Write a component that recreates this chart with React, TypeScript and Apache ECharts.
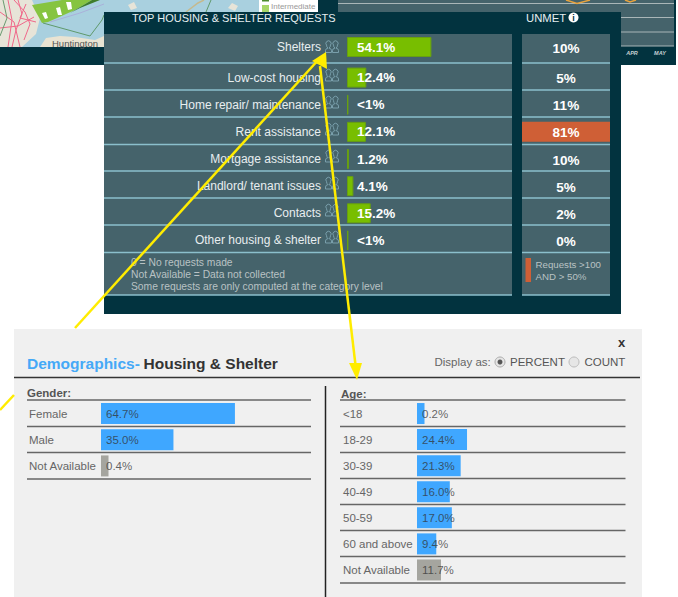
import React, { useEffect, useRef } from "react";
import * as echarts from "echarts";

const FONT = '"Liberation Sans", Arial, sans-serif';

const requestCategories = ["Shelters", "Low-cost housing", "Home repair/ maintenance", "Rent assistance", "Mortgage assistance", "Landlord/ tenant issues", "Contacts", "Other housing & shelter"];
const requestValues = [54.1, 12.4, 0.9, 12.1, 1.2, 4.1, 15.2, 0.9];
const requestLabels = ["54.1%", "12.4%", "<1%", "12.1%", "1.2%", "4.1%", "15.2%", "<1%"];
const unmetValues = [10, 5, 11, 81, 10, 5, 2, 0];
const genderCategories = ["Female", "Male", "Not Available"];
const genderValues = [64.7, 35.0, 0.4];
const ageCategories = ["<18", "18-29", "30-39", "40-49", "50-59", "60 and above", "Not Available"];
const ageValues = [0.2, 24.4, 21.3, 16.0, 17.0, 9.4, 11.7];
const footerNotes = ["0 = No requests made", "Not Available = Data not collected", "Some requests are only computed at the category level"];

echarts.graphic.registerShape(
  "people",
  echarts.graphic.extendPath(
    "M1 11 V9 Q1 7 3.5 6.6 Q2 5.6 2 3.6 A2.6 2.6 0 1 1 6 3.6 Q6 5.6 4.5 6.6 Q7 7 7 9 V11 Z M8 11 V9 Q8 7 10.5 6.6 Q9 5.6 9 3.6 A2.6 2.6 0 1 1 13 3.6 Q13 5.6 11.5 6.6 Q14 7 14 9 V11 Z",
    {}
  )
);

const DARK = "#02333f";
const PANEL = "#45636b";
const RULE = "#8bbfcc";
const LINE = "#666666";
const YELLOW = "#ffec00";

const rect = (x: number, y: number, width: number, height: number, fill: string, z = 0) => ({ type: "rect", z, silent: true, shape: { x, y, width, height }, style: { fill } });
const line = (x1: number, y1: number, x2: number, y2: number, stroke: string, lineWidth = 1.5, z = 1) => ({ type: "line", z, silent: true, shape: { x1, y1, x2, y2 }, style: { stroke, lineWidth } });
const poly = (points: number[][], fill: string, z = 1) => ({ type: "polygon", z, silent: true, shape: { points }, style: { fill } });
const route = (points: number[][], stroke: string, lineWidth = 1, z = 1) => ({ type: "polyline", z, silent: true, shape: { points }, style: { stroke, lineWidth, fill: "none" } });
const text = (s: string, x: number, y: number, fill: string, size: number, weight = "normal", z = 3, extra: any = {}) => ({
  type: "text", z, silent: true, x, y,
  style: { text: s, fill, font: `${extra.italic ? "italic " : ""}${weight} ${size}px ${FONT}`, verticalAlign: "middle", align: extra.align || "left" },
});

const rowRules = [63, 90, 117, 144.5, 171, 198, 225, 252.5, 295];
const iconCentres = [47.5, 76, 103, 130, 157, 184, 211, 238];
const ageRules = [400, 426.5, 452.5, 478.5, 504.5, 530.5, 556.5, 583];
const genderRules = [400, 426.5, 452.5, 479];

const graphics: any[] = [
  // map fragment
  rect(0, 0, 104, 47, "#a9d0df"),
  rect(104, 0, 214, 12, "#a9d0df"),
  poly([[0, 0], [32, 0], [40, 18], [36, 34], [22, 47], [0, 47]], "#e7e4d8"),
  poly([[40, 47], [46, 38], [60, 36], [75, 37], [95, 40], [104, 36], [104, 47]], "#e9e3d2"),
  poly([[32, 5], [62, 0], [92, 0], [75, 10], [48, 22], [42, 23]], "#86c440"),
  poly([[70, 13], [92, 0], [100, 0], [80, 8]], "#3f7d2a"),
  poly([[42, 13], [46, 12], [48, 18], [45, 19]], "#ffffff"),
  poly([[56, 8], [60, 7], [62, 15], [58, 15]], "#ffffff"),
  poly([[66, 2], [71, 2], [72, 9], [68, 10]], "#ffffff"),
  route([[43, 23], [90, 36], [102, 20], [104, 15]], "#5f9a6c", 1),
  route([[50, 22], [80, 13], [104, 4]], "#a9a8d8", 0.8),
  route([[0, 12], [14, 22], [20, 47]], "#f0688a", 1),
  route([[8, 0], [12, 20], [8, 47]], "#f0688a", 1),
  route([[18, 0], [22, 14], [16, 30], [12, 47]], "#f0688a", 1),
  route([[26, 4], [20, 18], [36, 22]], "#f0688a", 1),
  route([[0, 28], [18, 26], [34, 17]], "#f0688a", 1),
  route([[14, 0], [25, 12], [30, 24], [24, 40]], "#f0688a", 1),
  route([[3, 0], [7, 18], [0, 36]], "#6a9a70", 1),
  route([[186, 12], [198, 3], [204, 0]], "#c5b98e", 1.5),
  route([[206, 12], [211, 0]], "#5f9a6c", 1),
  poly([[128, 5], [134, 2], [137, 8], [131, 10]], "#e7e4d8"),
  poly([[228, 8], [232, 3], [238, 6], [235, 11]], "#e7e4d8"),
  text("Huntington", 52, 43, "#555555", 9.5, "normal", 1),
  rect(259, 0, 59, 12, "#ffffff", 1),
  rect(262, 0, 7, 1.5, "#4d8a2e", 2),
  rect(262, 5, 7, 7, "#a8d668", 2),
  text("Intermediate", 271, 6.5, "#999999", 8, "normal", 3),
  // dark frames
  rect(0, 47, 104, 18, DARK),
  rect(318, 0, 358, 12, DARK),
  rect(621, 0, 55, 65, DARK),
  rect(338, 0, 336, 12, PANEL, 1),
  rect(621, 12, 53, 34, PANEL, 1),
  line(338, 3.5, 674, 3.5, "#a9b6b8", 1, 2),
  line(621, 17.5, 674, 17.5, "#a9b6b8", 1, 2),
  line(621, 32, 674, 32, "#a9b6b8", 1, 2),
  line(621, 46, 674, 46, "#a9b6b8", 1, 2),
  route([[566, 0], [577, 3.5], [590, 0]], "#e8a33d", 1.5, 2),
  route([[625, 0], [630, 2], [636, 0]], "#e8a33d", 1.5, 2),
  text("APR", 632, 53, "#c8d2d4", 5.5, "bold", 3, { italic: true, align: "center" }),
  text("MAY", 660, 53, "#c8d2d4", 5.5, "bold", 3, { italic: true, align: "center" }),
  // top panel
  rect(104, 12, 517, 302, DARK, 1),
  rect(104, 34, 408, 261, PANEL, 1),
  rect(522, 34, 88, 261, PANEL, 1),
  ...rowRules.flatMap((y) => [line(104, y, 512, y, RULE, 1.5, 2), line(522, y, 610, y, RULE, 1.5, 2)]),
  text("TOP HOUSING & SHELTER REQUESTS", 132, 17.5, "#e6eef0", 11),
  text("UNMET", 526, 17.5, "#e6eef0", 11.3),
  { type: "circle", z: 3, silent: true, shape: { cx: 573.5, cy: 17.5, r: 5 }, style: { fill: "#ffffff" } },
  text("i", 573.5, 17.5, DARK, 9, "bold", 4, { align: "center" }),
  ...iconCentres.map((c) => ({ type: "people", z: 3, silent: true, x: 324.5, y: c - 6, style: { fill: "none", stroke: "#7fa6b2", lineWidth: 0.9 } })),
  ...footerNotes.map((n, i) => text(n, 131, 262.5 + i * 12, "#b9c2c4", 10.3)),
  rect(525.5, 258, 5.5, 24, "#cf5f36", 3),
  text("Requests >100", 535.5, 264, "#b9c2c4", 9.7),
  text("AND > 50%", 535.5, 276, "#b9c2c4", 9.7),
  // arrow, lower part is covered by the lower panel
  line(0, 410, 14, 395, YELLOW, 2.5, 30),
  line(75, 328, 320, 58, YELLOW, 2.5, 30),
  poly([[326, 52], [312, 61], [327, 69]], YELLOW, 30),
  // lower panel
  rect(14, 329, 628, 268, "#f0f0f0", 1),
  text("Demographics-", 27, 363.5, "#45a9f7", 15.5, "bold"),
  text("Housing & Shelter", 143.5, 363.5, "#333333", 15.5, "bold"),
  text("x", 618, 342, "#333333", 13, "bold"),
  text("Display as:", 434.5, 361.5, "#666666", 11.5),
  { type: "circle", z: 3, silent: true, shape: { cx: 500, cy: 362, r: 5 }, style: { fill: "#e6e6e6", stroke: "#aaaaaa", lineWidth: 1 } },
  { type: "circle", z: 4, silent: true, shape: { cx: 500, cy: 362, r: 2.5 }, style: { fill: "#555555" } },
  text("PERCENT", 510, 361.5, "#555555", 11.5),
  { type: "circle", z: 3, silent: true, shape: { cx: 574, cy: 362, r: 5 }, style: { fill: "#e6e6e6", stroke: "#bbbbbb", lineWidth: 1 } },
  text("COUNT", 584.5, 361.5, "#555555", 11.5),
  line(14, 377.5, 640, 377.5, "#333333", 1.5, 2),
  line(325.5, 386, 325.5, 597, "#222222", 1.5, 2),
  text("Gender:", 27, 393, "#555555", 11.5, "bold"),
  text("Age:", 341, 393.5, "#555555", 11.5, "bold"),
  ...genderRules.map((y) => line(27, y, 311, y, LINE)),
  ...ageRules.map((y) => line(340, y, 625.5, y, LINE)),
  // second arrow over everything
  line(320, 66, 355.5, 365, YELLOW, 2.5, 30),
  poly([[357, 380], [349, 363], [362, 363]], YELLOW, 30),
];

const requestAxisLabel = { color: "#e8eef0", fontSize: 12, fontFamily: FONT, margin: 26, padding: [0, 0, 3, 0] };

const requestBar = (cats: string[], offset: number, gridIndex: number) => ({
  type: "bar", xAxisIndex: gridIndex, yAxisIndex: gridIndex, z: 4, barWidth: 20, silent: true,
  data: requestValues.slice(offset, offset + cats.length),
  itemStyle: { color: "#78be00", borderColor: "#68a010", borderWidth: 1 },
  label: {
    show: true, position: "insideLeft", distance: 10, color: "#ffffff", fontFamily: FONT, fontWeight: "bold", fontSize: 13.5,
    formatter: (p: any) => requestLabels[offset + p.dataIndex],
  },
});

const unmetSeries = (offset: number, count: number, gridIndex: number) => ({
  type: "custom", xAxisIndex: gridIndex, yAxisIndex: gridIndex, z: 4, silent: true,
  encode: { x: 0, y: 1 },
  data: unmetValues.slice(offset, offset + count).map((v, i) => [v, i]),
  renderItem: (params: any, api: any) => {
    const v = api.value(0);
    const cs = params.coordSys;
    const cy = api.coord([0, api.value(1)])[1];
    const children: any[] = [];
    if (v > 50) children.push({ type: "rect", shape: { x: cs.x, y: cy - 10, width: cs.width, height: 20 }, style: { fill: "#cf5f36" } });
    children.push({ type: "text", style: { text: `${v}%`, x: cs.x + cs.width / 2, y: cy + 1, align: "center", verticalAlign: "middle", fill: "#ffffff", font: `bold 13.5px ${FONT}` } });
    return { type: "group", children };
  },
});

const demoSeries = (values: number[], gridIndex: number, grayIndex: number) => ({
  type: "bar", xAxisIndex: gridIndex, yAxisIndex: gridIndex, z: 4, barWidth: 21, barMinHeight: 7.5, silent: true,
  data: values.map((value, i) => ({ value, itemStyle: { color: i === grayIndex ? "#a5a59f" : "#3fa7ff" } })),
  label: {
    show: true, position: "insideLeft", distance: 5, color: "rgba(50,50,50,0.75)", fontFamily: FONT, fontSize: 11.5,
    formatter: (p: any) => `${p.value.toFixed(1)}%`,
  },
});

const hiddenX = (gridIndex: number) => ({ type: "value", gridIndex, min: 0, max: 100, show: false });
const catY = (gridIndex: number, data: string[], axisLabel: any) => ({
  type: "category", gridIndex, data, inverse: true, z: 5,
  axisLine: { show: false }, axisTick: { show: false }, splitLine: { show: false },
  axisLabel,
});

const demoLabel = (margin: number) => ({ color: "#666666", fontSize: 11.5, fontFamily: FONT, align: "left", margin, interval: 0 });
const rest = requestCategories.slice(1);
const first = requestCategories.slice(0, 1);
const noLabel = { show: false };

const option: any = {
  animation: false,
  backgroundColor: "#ffffff",
  textStyle: { fontFamily: FONT },
  graphic: { elements: graphics },
  grid: [
    { left: 347, top: 37, width: 156, height: 20 },
    { left: 347, top: 64, width: 156, height: 190 },
    { left: 522, top: 37, width: 88, height: 20 },
    { left: 522, top: 64, width: 88, height: 190 },
    { left: 101, top: 400.5, width: 207, height: 78.5 },
    { left: 417, top: 400.5, width: 205, height: 182.5 },
  ],
  xAxis: [0, 1, 2, 3, 4, 5].map(hiddenX),
  yAxis: [
    catY(0, first, { ...requestAxisLabel, interval: 0 }),
    catY(1, rest, { ...requestAxisLabel, interval: 0 }),
    catY(2, first, noLabel),
    catY(3, rest, noLabel),
    catY(4, genderCategories, demoLabel(72)),
    catY(5, ageCategories, demoLabel(74)),
  ],
  series: [
    requestBar(first, 0, 0),
    requestBar(rest, 1, 1),
    unmetSeries(0, 1, 2),
    unmetSeries(1, 7, 3),
    demoSeries(genderValues, 4, 2),
    demoSeries(ageValues, 5, 6),
  ],
};

export default function App() {
  const ref = useRef<HTMLDivElement>(null);
  useEffect(() => {
    const chart = echarts.init(ref.current!, undefined, { renderer: "svg" });
    chart.setOption(option);
    return () => chart.dispose();
  }, []);
  return <div ref={ref} style={{ position: "fixed", left: 0, top: 0, width: 678, height: 597 }} />;
}
